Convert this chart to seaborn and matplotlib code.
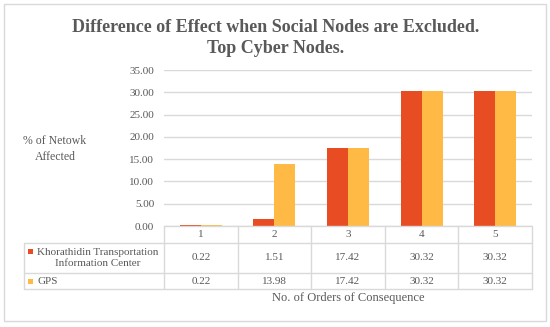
import matplotlib
matplotlib.use("Agg")
import matplotlib.pyplot as plt
import seaborn as sns
import pandas as pd
from matplotlib.patches import Rectangle
from matplotlib.lines import Line2D

orders = ["1", "2", "3", "4", "5"]
series_names = ["Khorathidin Transportation\nInformation Center", "GPS"]
khorathidin = [0.22, 1.51, 17.42, 30.32, 30.32]
gps = [0.22, 13.98, 17.42, 30.32, 30.32]
yticks = [0, 5, 10, 15, 20, 25, 30, 35]
colors = ["#E84C22", "#FFBA45"]

df = pd.DataFrame({
    "order": orders * 2,
    "value": khorathidin + gps,
    "series": [series_names[0]] * 5 + [series_names[1]] * 5,
})

sns.set_style("white")
plt.rcParams["font.family"] = ["Liberation Serif", "DejaVu Serif"]
txt = "#595959"
line_c = "#D9D9D9"
fs = 8

W, H = 550, 327
fig = plt.figure(figsize=(5.5, 3.27), dpi=100)
ax = fig.add_axes([164 / W, 1 - 226 / H, 368 / W, 156 / H])

sns.barplot(data=df, x="order", y="value", hue="series", palette=colors,
            width=0.57, gap=0, ax=ax, legend=False, saturation=1,
            linewidth=0)

ax.set_ylim(0, 35)
ax.set_xlim(-0.5, 4.5)
ax.set_yticks(yticks)
ax.set_yticklabels([f"{v:.2f}" for v in yticks], color=txt, fontsize=fs)
ax.tick_params(axis="y", length=0, pad=7)
ax.set_xticks([])
ax.set_xlabel("")
ax.set_ylabel("")
ax.yaxis.grid(True, color=line_c, linewidth=1)
ax.set_axisbelow(True)
for s in ax.spines.values():
    s.set_visible(False)

# data table under the axes
px = 1 / 156
xf = ax.get_xaxis_transform()
row_edges = [0, -17 * px, -47 * px, -63 * px]
label_left = (24 - 164) / 368
tr = ax.transAxes

def hline(x0, x1, y, trans):
    ax.add_line(Line2D([x0, x1], [y, y], transform=trans, color=line_c,
                       lw=1, clip_on=False))

def vline(x, y0, y1, trans):
    ax.add_line(Line2D([x, x], [y0, y1], transform=trans, color=line_c,
                       lw=1, clip_on=False))

hline(0, 1, row_edges[0], tr)
for y in row_edges[1:]:
    hline(label_left, 1, y, tr)
for k in range(6):
    vline(k - 0.5, row_edges[0], row_edges[3], xf)
vline(label_left, row_edges[1], row_edges[3], tr)

for i, o in enumerate(orders):
    ax.text(i, (row_edges[0] + row_edges[1]) / 2, o, transform=xf,
            ha="center", va="center", color=txt, fontsize=fs, clip_on=False)
    ax.text(i, (row_edges[1] + row_edges[2]) / 2, f"{khorathidin[i]:.2f}",
            transform=xf, ha="center", va="center", color=txt, fontsize=fs,
            clip_on=False)
    ax.text(i, (row_edges[2] + row_edges[3]) / 2, f"{gps[i]:.2f}",
            transform=xf, ha="center", va="center", color=txt, fontsize=fs,
            clip_on=False)

label_cx = (98 - 164) / 368
for r, (name, c) in enumerate(zip(series_names, colors)):
    yc = (row_edges[r + 1] + row_edges[r + 2]) / 2
    if r == 0:
        ax.text(label_cx, yc, name, transform=tr, ha="center", va="center",
                color=txt, fontsize=fs, multialignment="center",
                linespacing=1.15, clip_on=False)
        my = yc + 7 * px
    else:
        ax.text((37 - 164) / 368, yc, name, transform=tr, ha="left",
                va="center", color=txt, fontsize=fs, clip_on=False)
        my = yc
    ax.add_patch(Rectangle(((28 - 164) / 368, my - 2.5 * px), 5 / 368, 5 * px,
                           transform=tr, facecolor=c, edgecolor="none",
                           clip_on=False))

fig.text(348 / W, 1 - 298 / H, "No. of Orders of Consequence", ha="center",
         va="center", color=txt, fontsize=9)
fig.text(55 / W, 1 - 149 / H, "% of Netowk\nAffected", ha="center",
         va="center", color=txt, fontsize=8.5, linespacing=1.35)
fig.text(276 / W, 1 - 38 / H,
         "Difference of Effect when Social Nodes are Excluded.\nTop Cyber Nodes.",
         ha="center", va="center", color=txt, fontsize=13, fontweight="bold",
         linespacing=1.3)

fig.patches.append(Rectangle((4 / W, 1 - 321 / H), 542 / W, 317 / H,
                             transform=fig.transFigure, fill=False,
                             edgecolor=line_c, lw=1))

fig.savefig("out.png", dpi=100)
